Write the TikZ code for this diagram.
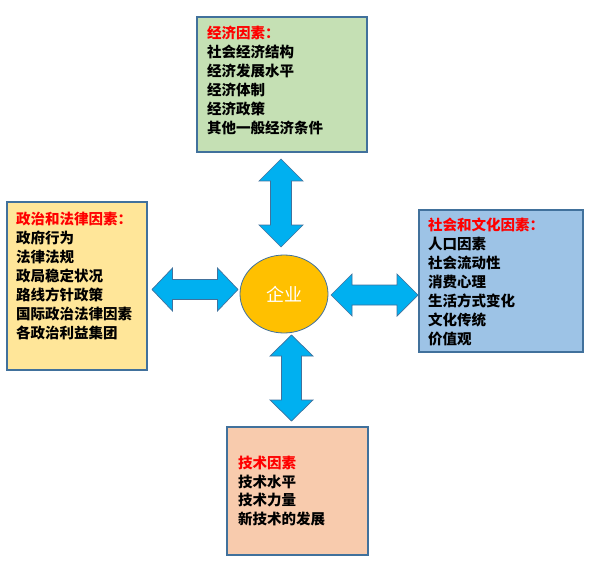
\documentclass[tikz,border=0pt]{standalone}
\usepackage{fontspec}
\newfontfamily\cjk{Noto Sans CJK SC}
\usetikzlibrary{shapes.geometric}
\definecolor{bord}{HTML}{41719C}
\definecolor{arr}{HTML}{00B0F0}
\definecolor{ecofill}{HTML}{C5E0B4}
\definecolor{polfill}{HTML}{FFE699}
\definecolor{socfill}{HTML}{9DC3E6}
\definecolor{tecfill}{HTML}{F8CBAD}
\definecolor{entfill}{HTML}{FFC000}
\definecolor{ttl}{HTML}{FF0000}
\tikzset{
  fbox/.style={draw=bord, line width=1.2pt},
  barrow/.style={draw=bord, fill=arr, line width=0.7pt, line join=miter},
  txt/.style={font=\cjk\bfseries\fontsize{14.5}{19}\selectfont, inner sep=0pt, anchor=base west},
  ttxt/.style={txt, text=ttl},
}
% vertical double arrow: cx, y1, y2, half shaft, half head, head length
\newcommand\vdarrow[6]{%
  \draw[barrow] (#1,#2) -- ({#1+#5},{#2+#6}) -- ({#1+#4},{#2+#6}) -- ({#1+#4},{#3-#6})
    -- ({#1+#5},{#3-#6}) -- (#1,#3) -- ({#1-#5},{#3-#6}) -- ({#1-#4},{#3-#6})
    -- ({#1-#4},{#2+#6}) -- ({#1-#5},{#2+#6}) -- cycle;}
% horizontal double arrow: cy, x1, x2, half shaft, half head, head length
\newcommand\hdarrow[6]{%
  \draw[barrow] (#2,#1) -- ({#2+#6},{#1-#5}) -- ({#2+#6},{#1-#4}) -- ({#3-#6},{#1-#4})
    -- ({#3-#6},{#1-#5}) -- (#3,#1) -- ({#3-#6},{#1+#5}) -- ({#3-#6},{#1+#4})
    -- ({#2+#6},{#1+#4}) -- ({#2+#6},{#1+#5}) -- cycle;}
\begin{document}
\begin{tikzpicture}[x=1pt,y=-1pt]
\useasboundingbox[fill=white] (0,0) rectangle (592,567);
% boxes
\draw[fbox, fill=ecofill] (197,17) rectangle (367,152);
\draw[fbox, fill=polfill] (7,202) rectangle (147,370);
\draw[fbox, fill=socfill] (419,210) rectangle (583,352);
\draw[fbox, fill=tecfill] (227,427) rectangle (368,555);
% economic
\node[ttxt] (ecoT) at (207,38.4) {经济因素：};
\foreach \t [count=\i] in {社会经济结构,经济发展水平,经济体制,经济政策,其他一般经济条件}
  \node[txt] (eco\i) at (207,{38.4+19*\i}) {\t};
% political
\node[ttxt] (polT) at (16,224.5) {政治和法律因素：};
\foreach \t [count=\i] in {政府行为,法律法规,政局稳定状况,路线方针政策,国际政治法律因素,各政治利益集团}
  \node[txt] (pol\i) at (16,{224.5+19*\i}) {\t};
% social
\node[ttxt] (socT) at (428,230.5) {社会和文化因素：};
\foreach \t [count=\i] in {人口因素,社会流动性,消费心理,生活方式变化,文化传统,价值观}
  \node[txt] (soc\i) at (428,{230.5+19*\i}) {\t};
% technology
\node[ttxt] (tecT) at (238,468.5) {技术因素};
\foreach \t [count=\i] in {技术水平,技术力量,新技术的发展}
  \node[txt] (tec\i) at (238,{468.5+18.7*\i}) {\t};
% arrows
\vdarrow{281}{159}{247}{10.5}{22}{22}
\vdarrow{291.5}{335}{421}{10}{21.5}{21}
\hdarrow{289.5}{152}{238}{10}{21.5}{20.5}
\hdarrow{295}{331}{418}{10}{21}{21}
% centre
\node[ellipse, draw=bord, line width=0.8pt, fill=entfill, minimum width=88pt, minimum height=78pt, inner sep=0pt,
  text=white, font=\cjk\fontsize{18}{20}\selectfont] (ent) at (284,294) {企业};
\end{tikzpicture}
\end{document}
